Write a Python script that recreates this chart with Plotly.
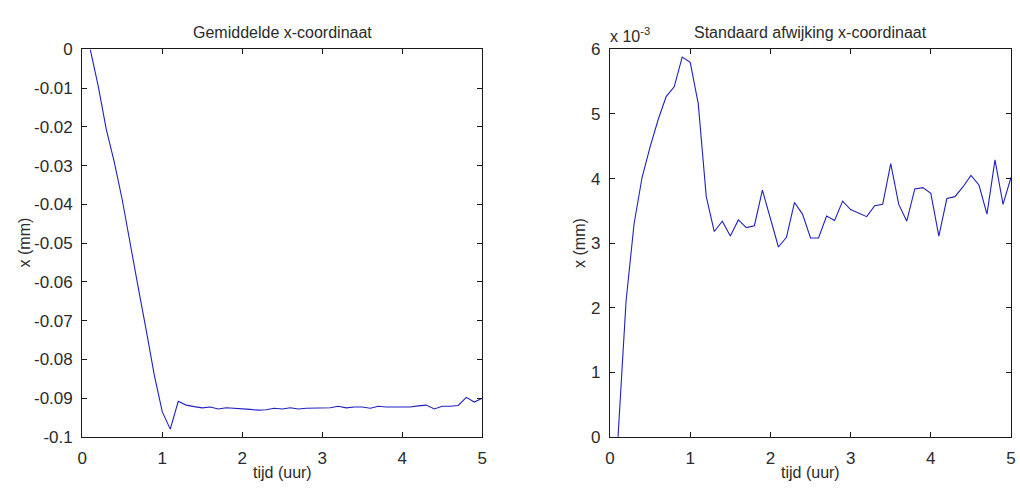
import plotly.graph_objects as go

# ---- data ----
tijd = [round(0.1 * i, 1) for i in range(1, 51)]

gem_x = [
    0.0, -0.0095, -0.0206, -0.0290, -0.0388, -0.0505, -0.0615, -0.0725, -0.0840, -0.0935,
    -0.0980, -0.0908, -0.0918, -0.0922, -0.0925, -0.0923, -0.0928, -0.0925, -0.0926, -0.0928,
    -0.0929, -0.0931, -0.0930, -0.0926, -0.0928, -0.0925, -0.0928, -0.0926, -0.0926, -0.0925,
    -0.0925, -0.0921, -0.0925, -0.0923, -0.0923, -0.0926, -0.0921, -0.0923, -0.0923, -0.0923,
    -0.0923, -0.0920, -0.0918, -0.0928, -0.0921, -0.0921, -0.0919, -0.0898, -0.0910, -0.0900,
]

# standard deviation, in units of 10^-3 mm
std_x = [
    0.0, 2.1, 3.3, 4.02, 4.49, 4.91, 5.27, 5.42, 5.88, 5.80,
    5.16, 3.72, 3.18, 3.34, 3.11, 3.36, 3.24, 3.27, 3.82, 3.37,
    2.94, 3.09, 3.63, 3.45, 3.08, 3.08, 3.42, 3.35, 3.65, 3.52,
    3.47, 3.41, 3.58, 3.60, 4.23, 3.60, 3.34, 3.84, 3.86, 3.77,
    3.11, 3.69, 3.72, 3.87, 4.05, 3.90, 3.45, 4.29, 3.60, 4.02,
]

x_ticks = [0, 1, 2, 3, 4, 5]
y1_ticks = [0, -0.01, -0.02, -0.03, -0.04, -0.05, -0.06, -0.07, -0.08, -0.09, -0.1]
y1_labels = ["0", "-0.01", "-0.02", "-0.03", "-0.04", "-0.05", "-0.06", "-0.07", "-0.08", "-0.09", "-0.1"]
y2_ticks = [0, 1, 2, 3, 4, 5, 6]

W, H = 1020, 494
def px(x):
    return x / W
def py(y):
    return 1 - y / H

LINE = "#2020c0"
AX = "#1a1a1a"
TXT = "#2b2b2b"
FONT = "Liberation Sans, Arial, sans-serif"

fig = go.Figure()
fig.add_trace(go.Scatter(x=tijd, y=gem_x, mode="lines", line=dict(color=LINE, width=1.1),
                         xaxis="x", yaxis="y", showlegend=False))
fig.add_trace(go.Scatter(x=tijd, y=std_x, mode="lines", line=dict(color=LINE, width=1.1),
                         xaxis="x2", yaxis="y2", showlegend=False))

common = dict(showgrid=False, zeroline=False, showline=True, linecolor=AX, linewidth=1.2,
              mirror="ticks", ticks="inside", ticklen=5, tickcolor=AX, tickwidth=1,
              tickfont=dict(family=FONT, size=17, color=TXT))

ydom = [py(445), py(42)]
fig.update_layout(
    width=W, height=H,
    margin=dict(l=0, r=0, t=0, b=0),
    paper_bgcolor="white", plot_bgcolor="white",
    xaxis=dict(domain=[px(78), px(482)], range=[0, 5], tickvals=x_ticks, anchor="y",
               ticklabelstandoff=6, **common),
    yaxis=dict(domain=ydom, range=[-0.1, 0], tickvals=y1_ticks, ticktext=y1_labels, anchor="x",
               ticklabelstandoff=5, **common),
    xaxis2=dict(domain=[px(611), px(1016)], range=[0, 5], tickvals=x_ticks, anchor="y2",
                ticklabelstandoff=6, **common),
    yaxis2=dict(domain=ydom, range=[0, 6], tickvals=y2_ticks, anchor="x2",
                ticklabelstandoff=5, **common),
)

def ann(text, x, y, size=16, angle=0, xanchor="center", yanchor="middle"):
    fig.add_annotation(text=text, x=px(x), y=py(y), xref="paper", yref="paper",
                       showarrow=False, textangle=angle, xanchor=xanchor, yanchor=yanchor,
                       font=dict(family=FONT, size=size, color=TXT))

ann("Gemiddelde x-coordinaat", 280, 24)
ann("Standaard afwijking x-coordinaat", 813, 24)
ann("tijd (uur)", 280, 482)
ann("tijd (uur)", 813, 482)
ann("x (mm)", 20, 243, angle=-90)
ann("x (mm)", 580, 243, angle=-90)
ann("x 10<sup>-3</sup>", 609, 27, size=16, xanchor="left")

fig.write_html("out.html")
